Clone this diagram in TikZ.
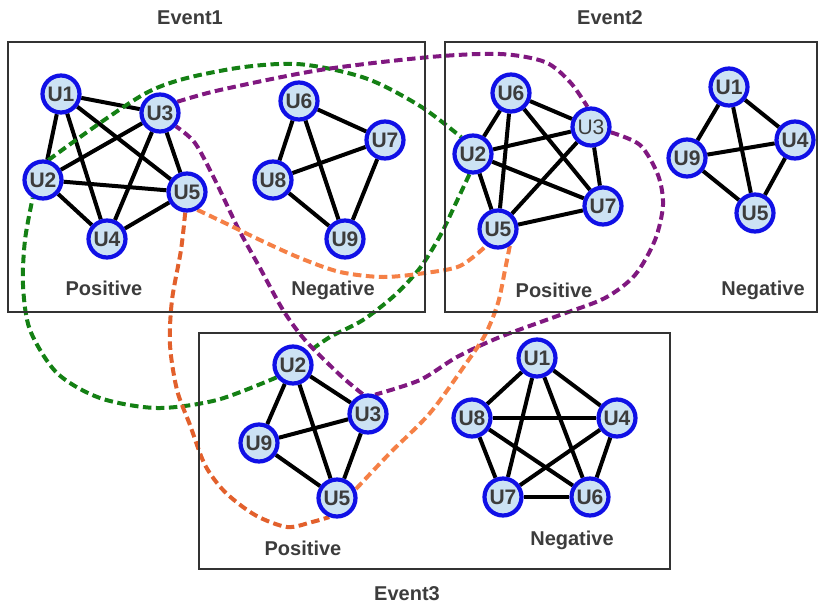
\documentclass[tikz,border=0pt]{standalone}
\usepackage{fontspec}
\setmainfont{Liberation Sans}
\pgfdeclarelayer{bg}
\pgfsetlayers{bg,main}
\definecolor{nodefill}{RGB}{204,226,244}
\definecolor{nodeline}{RGB}{16,16,230}
\definecolor{txt}{RGB}{60,60,60}
\definecolor{cgreen}{RGB}{20,128,20}
\definecolor{cpurple}{RGB}{128,24,128}
\definecolor{corange}{RGB}{245,128,70}
\definecolor{cdorange}{RGB}{226,96,44}
\tikzset{
 user/.style={circle, draw=nodeline, fill=nodefill, line width=4.2pt, minimum size=37pt, inner sep=0pt, font=\fontsize{21}{21}\selectfont\bfseries, text=txt},
 lnk/.style={line width=4pt, black},
 grp/.style={line width=4pt, dash pattern=on 8.5pt off 4.5pt},
 boxframe/.style={draw=black!80, line width=1.2pt},
 lbl/.style={font=\fontsize{20}{20}\selectfont\bfseries, text=txt},
}
\begin{document}
\begin{tikzpicture}[x=1pt,y=-1pt]
\useasboundingbox (0,0) rectangle (818,608);
% frames
\draw[boxframe] (8,42) rectangle (425,312);
\draw[boxframe] (445,42) rectangle (817,312);
\draw[boxframe] (199,333) rectangle (670,569);
% titles
\node[lbl] (t1) at (190,18) {Event1};
\node[lbl] (t2) at (610,18) {Event2};
\node[lbl] (t3) at (407,594) {Event3};
\node[lbl] (p1) at (104,288) {Positive};
\node[lbl] (n1) at (333,290) {Negative};
\node[lbl] (p2) at (554,290) {Positive};
\node[lbl] (n2) at (763,290) {Negative};
\node[lbl] (p3) at (303,548) {Positive};
\node[lbl] (n3) at (572,540) {Negative};
% Event1 nodes
\node[user] (a1) at (61,94) {U1};
\node[user] (a3) at (160,113) {U3};
\node[user] (a2) at (43,180) {U2};
\node[user] (a5) at (187,192) {U5};
\node[user] (a4) at (107,239) {U4};
\node[user] (a6) at (299,101) {U6};
\node[user] (a7) at (385,140) {U7};
\node[user] (a8) at (273,180) {U8};
\node[user] (a9) at (345,239) {U9};
% Event2 nodes
\node[user] (b6) at (511,93) {U6};
\node[user,font=\fontsize{21}{21}\selectfont\mdseries] (b3) at (591,127) {U3};
\node[user] (b2) at (473,154) {U2};
\node[user] (b7) at (603,206) {U7};
\node[user] (b5) at (498,229) {U5};
\node[user] (e1) at (729,87) {U1};
\node[user] (e4) at (795,140) {U4};
\node[user] (e9) at (687,158) {U9};
\node[user] (e5) at (755,213) {U5};
% Event3 nodes
\node[user] (c2) at (293,365) {U2};
\node[user] (c3) at (368,414) {U3};
\node[user] (c9) at (259,443) {U9};
\node[user] (c5) at (337,498) {U5};
\node[user] (d1) at (537,358) {U1};
\node[user] (d8) at (472,418) {U8};
\node[user] (d4) at (617,418) {U4};
\node[user] (d7) at (503,497) {U7};
\node[user] (d6) at (590,497) {U6};
\begin{pgfonlayer}{bg}
% edges
\foreach \u/\v in {a1/a3,a1/a2,a1/a4,a1/a5,a3/a2,a3/a4,a3/a5,a2/a5,a2/a4,a4/a5,
  a6/a7,a6/a8,a6/a9,a8/a7,a8/a9,a7/a9,
  b6/b2,b6/b3,b6/b5,b6/b7,b2/b3,b2/b7,b2/b5,b3/b5,b3/b7,b5/b7,
  e1/e9,e1/e4,e1/e5,e9/e4,e9/e5,e4/e5,
  c2/c3,c2/c9,c2/c5,c9/c3,c9/c5,c3/c5,
  d1/d8,d1/d4,d1/d7,d1/d6,d8/d4,d8/d6,d8/d7,d4/d7,d4/d6,d7/d6}
  \draw[lnk] (\u) -- (\v);
% green group
\draw[grp,cgreen] plot[smooth] coordinates {(a2.75) (148,92) (225,70) (297,64) (365,78) (420,106) (b2.125)};
\draw[grp,cgreen] plot[smooth] coordinates {(b2.-100) (455,205) (440,236) (420,268) (395,295) (363,320) (330,337) (c2.40)};
\draw[grp,cgreen] plot[smooth] coordinates {(c2.-143) (217,400) (157,408) (100,398) (57,373) (30,330) (23,285) (25,240) (a2.-120)};
% purple group
\draw[grp,cpurple] plot[smooth] coordinates {(a3.33) (220,90) (320,70) (430,57) (500,54) (545,62) (570,82) (b3.100)};
\draw[grp,cpurple] plot[smooth] coordinates {(b3.-15) (640,145) (658,175) (663,205) (655,240) (635,275) (605,298) (560,315) (500,337) (457,357) (420,380) (c3.70)};
\draw[grp,cpurple] plot[smooth] coordinates {(c3.105) (340,375) (305,340) (283,310) (260,268) (238,228) (215,180) (195,143) (a3.-40)};
% orange groups
\draw[grp,corange] plot[smooth] coordinates {(a5.-60) (225,223) (260,240) (300,258) (340,272) (383,277) (425,273) (460,266) (b5.-125)};
\draw[grp,corange] plot[smooth] coordinates {(b5.-55) (505,270) (498,303) (485,335) (465,365) (430,413) (390,453) (c5.25)};
\draw[grp,cdorange] plot[smooth] coordinates {(a5.-95) (181,250) (172,300) (170,345) (177,390) (190,425) (205,465) (225,492) (255,515) (287,527) (312,522) (c5.-112)};
\end{pgfonlayer}
\end{tikzpicture}
\end{document}
